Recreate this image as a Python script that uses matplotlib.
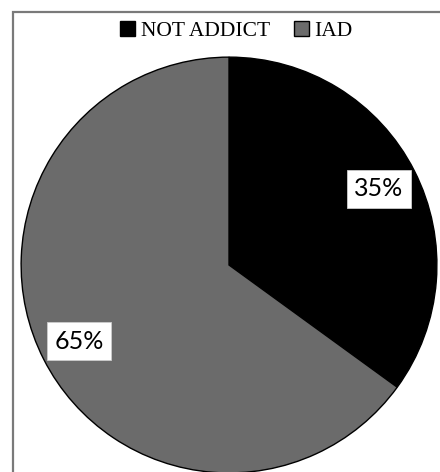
import matplotlib.pyplot as plt
from matplotlib.patches import Rectangle

labels = ['NOT ADDICT', 'IAD']
values = [35, 65]
colors = ['#000000', '#6b6b6b']

fig = plt.figure(figsize=(4.4, 4.72), dpi=100)
ax = fig.add_axes([0.048, -0.002, 0.945, 0.881])

wedges, texts, autotexts = ax.pie(values, colors=colors, startangle=90, counterclock=False,
                                  autopct='%1.0f%%', pctdistance=0.81,
                                  wedgeprops=dict(edgecolor='black', linewidth=1.0))
for t in autotexts:
    t.set_fontsize(18)
    t.set_family('Lato')
    t.set_color('black')
    t.set_bbox(dict(boxstyle='square,pad=0.3', facecolor='white', edgecolor='#cccccc', linewidth=0.6))
ax.set_xlim(-1, 1)
ax.set_ylim(-1, 1)

# frame line at top and left
fig.patches.append(Rectangle((12.5 / 440, -0.1), 1.2, 1 - 11.5 / 472 + 0.1,
                             transform=fig.transFigure, fill=False,
                             edgecolor='#7a7a7a', linewidth=1.6))

fig.legend(wedges, labels, loc='center', bbox_to_anchor=(0.537, 1 - 31 / 472), ncol=2,
           frameon=False, handlelength=0.7, handleheight=0.7, handletextpad=0.25,
           columnspacing=1.1, prop={'family': 'Liberation Serif', 'size': 15.5})

fig.savefig('out.png', dpi=100)
